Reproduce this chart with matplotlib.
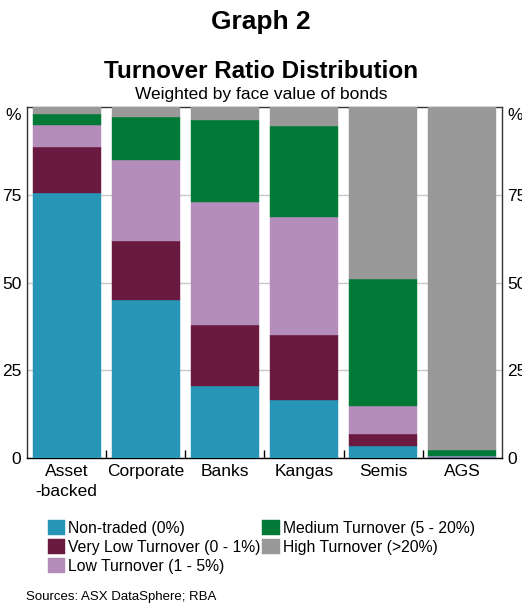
import matplotlib
matplotlib.use("Agg")
import matplotlib.pyplot as plt
import numpy as np

plt.rcParams['font.family'] = ['Liberation Sans', 'DejaVu Sans']

categories = ["Asset\n-backed", "Corporate", "Banks", "Kangas", "Semis", "AGS"]
series_names = ["Non-traded (0%)", "Very Low Turnover (0 - 1%)", "Low Turnover (1 - 5%)",
                "Medium Turnover (5 - 20%)", "High Turnover (>20%)"]
non_traded = [75.4, 45.0, 20.5, 16.5, 3.5, 0.2]
very_low = [13.1, 16.9, 17.3, 18.5, 3.4, 0.2]
low = [6.5, 23.0, 35.1, 33.7, 7.9, 0.2]
medium = [3.0, 12.3, 23.4, 25.9, 36.1, 1.7]
high = [2.0, 2.8, 3.7, 5.4, 49.1, 97.7]
colors = ["#2795b6", "#6a1a40", "#b48dbb", "#007a36", "#999999"]
yticks = [0, 25, 50, 75]

fig = plt.figure(figsize=(5.22, 6.05), dpi=100)
ax = fig.add_axes([0.0517, 0.2430, 0.9100, 0.5801])

x = np.arange(len(categories))
bottom = np.zeros(len(categories))
handles = []
for vals, c, name in zip([non_traded, very_low, low, medium, high], colors, series_names):
    b = ax.bar(x, vals, width=0.86, bottom=bottom, color=c, label=name, zorder=3,
               edgecolor=c, linewidth=0.3)
    bottom += np.array(vals)
    handles.append(b)

ax.set_xlim(-0.5, len(categories) - 0.5)
ax.set_ylim(0, 100)
ax.set_yticks(yticks)
ax.set_yticklabels([str(t) for t in yticks])
ax.yaxis.grid(True, color="#c8c8c8", linewidth=1.0, zorder=0)
ax.set_axisbelow(True)
ax.tick_params(axis='y', length=0, labelsize=12.5, pad=4, colors="black",
               left=True, right=True, labelleft=True, labelright=True)
ax.set_xticks(x)
ax.set_xticklabels(categories, fontsize=12.5, linespacing=1.45)
ax.tick_params(axis='x', which='major', length=0, pad=4)
ax.set_xticks(np.arange(0.5, len(categories) - 0.5, 1.0), minor=True)
ax.tick_params(axis='x', which='minor', direction='in', length=6, width=1, color="black")
for s in ax.spines.values():
    s.set_color("#333333")
    s.set_linewidth(1.0)
ax.spines['bottom'].set_color("black")

ax.text(-0.012, 0.975, "%", transform=ax.transAxes, ha='right', va='center', fontsize=12.5)
ax.text(1.012, 0.975, "%", transform=ax.transAxes, ha='left', va='center', fontsize=12.5)

fig.text(0.5, 1 - 22 / 605, "Graph 2", ha='center', va='center', fontsize=19, fontweight='bold')
fig.text(0.5, 1 - 71 / 605, "Turnover Ratio Distribution", ha='center', va='center',
         fontsize=17.5, fontweight='bold')
fig.text(0.5, 1 - 95 / 605, "Weighted by face value of bonds", ha='center', va='center',
         fontsize=12.5)

fig.legend(handles=handles, labels=series_names, ncol=2, loc='upper left',
           bbox_to_anchor=(48 / 522, 1 - 520 / 605), frameon=False, fontsize=11.3,
           handlelength=1.1, handleheight=1.1, handletextpad=0.2, columnspacing=0.1,
           labelspacing=0.2, borderaxespad=0, borderpad=0)

fig.text(26 / 522, 1 - 597 / 605, "Sources: ASX DataSphere; RBA", ha='left', va='center',
         fontsize=9.5)

fig.savefig("out.png", dpi=100)
